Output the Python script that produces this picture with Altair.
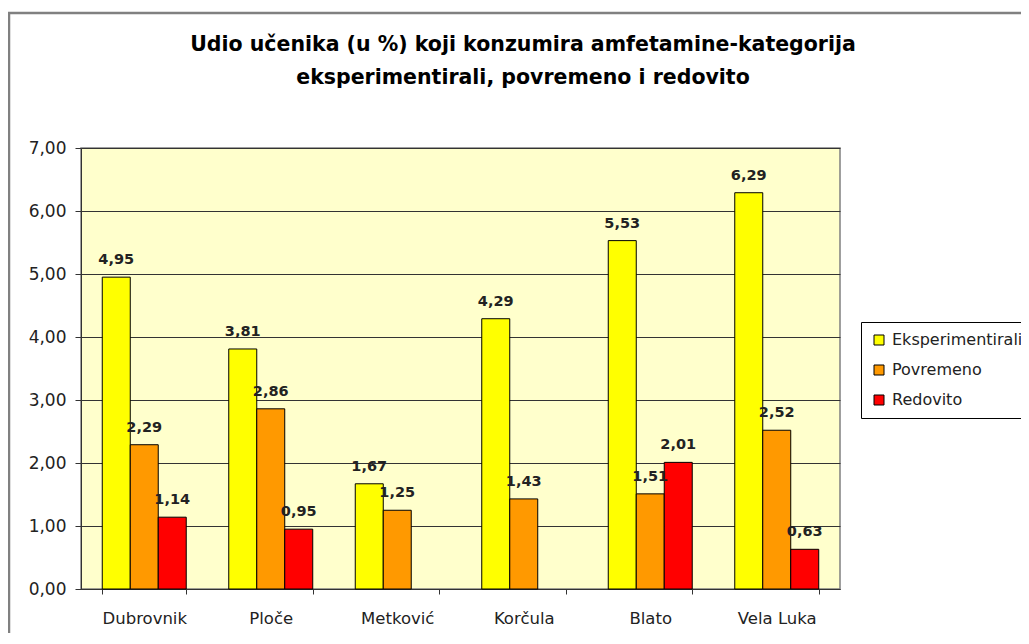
import altair as alt
import pandas as pd

towns = ["Dubrovnik", "Ploče", "Metković", "Korčula", "Blato", "Vela Luka"]
series = ["Eksperimentirali", "Povremeno", "Redovito"]
eksperimentirali = [4.95, 3.81, 1.67, 4.29, 5.53, 6.29]
povremeno = [2.29, 2.86, 1.25, 1.43, 1.51, 2.52]
redovito = [1.14, 0.95, None, None, 2.01, 0.63]
colors = ["#FFFF00", "#FF9900", "#FF0000"]
title_line1 = "Udio učenika (u %) koji konzumira amfetamine-kategorija"
title_line2 = "eksperimentirali, povremeno i redovito"

rows = []
for s, vals in zip(series, [eksperimentirali, povremeno, redovito]):
    for t, v in zip(towns, vals):
        if v is not None:
            rows.append({"grad": t, "kategorija": s, "vrijednost": v})
df = pd.DataFrame(rows)

FONT = "DejaVu Sans"

base = alt.Chart(df).encode(
    x=alt.X("grad:N", sort=towns, title=None,
            scale=alt.Scale(paddingInner=0.336, paddingOuter=0.168),
            axis=alt.Axis(tickBand="extent", labelAngle=0, labelFont=FONT,
                          labelFontSize=16.5, labelColor="#222222",
                          labelPadding=16, tickSize=5, tickColor="#333333",
                          domainColor="#333333", grid=False)),
    xOffset=alt.XOffset("kategorija:N", sort=series,
                        scale=alt.Scale(domain=series, paddingInner=0, paddingOuter=0)),
    y=alt.Y("vrijednost:Q", title=None,
            scale=alt.Scale(domain=[0, 7], nice=False),
            axis=alt.Axis(values=[0, 1, 2, 3, 4, 5, 6, 7],
                          labelExpr="replace(format(datum.value, '.2f'), '.', ',')",
                          labelFont=FONT, labelFontSize=17, labelColor="#222222",
                          labelPadding=9, tickSize=6, tickColor="#333333",
                          domainColor="#333333", gridColor="#333333",
                          gridWidth=1.2)),
)

bars = base.mark_bar(stroke="black", strokeWidth=1).encode(
    color=alt.Color("kategorija:N", sort=series,
                    scale=alt.Scale(domain=series, range=colors),
                    legend=alt.Legend(title=None, orient="none", legendX=780, legendY=174,
                                      padding=10, strokeColor="black", fillColor="white",
                                      labelFont=FONT, labelFontSize=16,
                                      labelColor="#222222", symbolType="square",
                                      symbolSize=100, symbolStrokeColor="black",
                                      symbolStrokeWidth=1, rowPadding=14,
                                      labelOffset=5))
)

labels = base.mark_text(font=FONT, fontSize=14.5, fontWeight="bold", color="#222222",
                        baseline="alphabetic", dy=-13).transform_calculate(
    lbl="replace(format(datum.vrijednost, '.2f'), '.', ',')"
).encode(text="lbl:N")

one = pd.DataFrame({"a": [0]})
border = alt.Chart(one).mark_rect(
    fillOpacity=0, stroke="#808080", strokeWidth=2.5
).encode(x=alt.value(-72), x2=alt.value(1000), y=alt.value(-135), y2=alt.value(540))

title1 = alt.Chart(one).mark_text(
    font=FONT, fontSize=20.5, fontWeight="bold", color="black", baseline="middle"
).encode(x=alt.value(442), y=alt.value(-103), text=alt.value(title_line1))
title2 = alt.Chart(one).mark_text(
    font=FONT, fontSize=20.5, fontWeight="bold", color="black", baseline="middle"
).encode(x=alt.value(442), y=alt.value(-70), text=alt.value(title_line2))

chart = alt.layer(border, title1, title2, bars, labels).properties(
    width=759, height=441,
    autosize=alt.AutoSizeParams(type="none"),
    padding={"left": 73, "top": 140, "right": 181, "bottom": 44},
).configure_view(fill="#FFFFCC", stroke="#808080", strokeWidth=1.5)

chart.save("out.html", embed_options={"renderer": "svg", "actions": False})
